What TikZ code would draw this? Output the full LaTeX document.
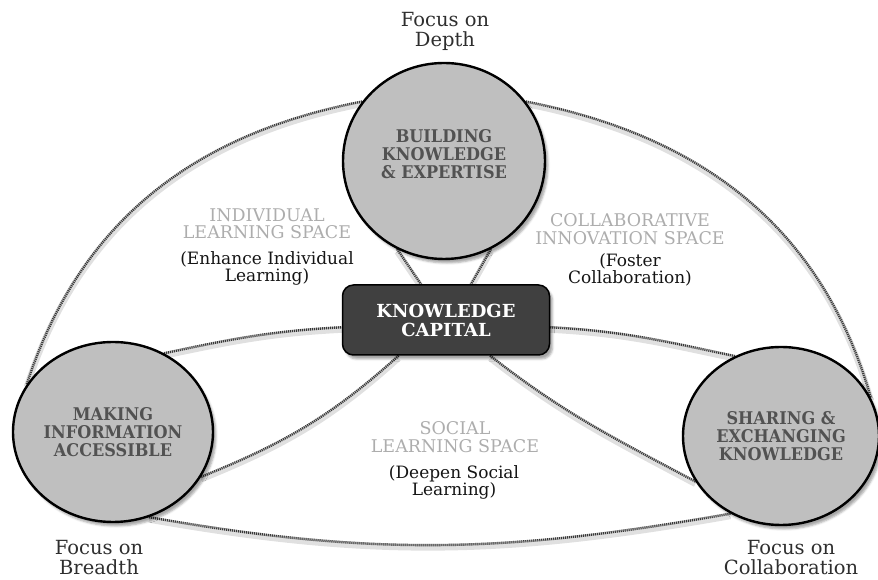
\documentclass[tikz,border=0pt]{standalone}
\usepackage{fontspec}
\setmainfont{DejaVu Serif}
\newfontfamily\hubfont[FakeStretch=0.92]{DejaVu Serif Bold}
\usetikzlibrary{shapes.geometric,shadows.blur,backgrounds}

\begin{document}
\begin{tikzpicture}[x=1pt, y=1pt,
	hubtext/.style={text=black!68, align=center, font=\hubfont\fontsize{17.5}{18}\selectfont},
	hub/.style={ellipse, draw=black, line width=2.4pt, fill=gray!50, inner sep=0pt, hubtext,
		blur shadow={shadow xshift=3pt, shadow yshift=-4pt, shadow opacity=35}},
	core/.style={rectangle, rounded corners=11pt, draw=black, line width=1.5pt, fill=black!75, text=white, align=center,
		minimum width=207, minimum height=70, font=\bfseries\fontsize{18}{19}\selectfont,
		blur shadow={shadow xshift=3pt, shadow yshift=-4pt, shadow opacity=35}},
	space/.style={text=black!32, align=center, font=\fontsize{17.5}{17.5}\selectfont},
	aim/.style={text=black!92, align=center, font=\fontsize{17}{17}\selectfont},
	focus/.style={text=black!82, align=center, font=\fontsize{19.5}{20}\selectfont},
	rope/.style={line width=2.4pt, draw=gray!45,
		preaction={draw=black!12, line width=6pt, transform canvas={yshift=-2.5pt}},
		postaction={draw=black!78, line width=2.4pt, dash pattern=on 1pt off 1pt}}]
	\useasboundingbox (0,0) rectangle (878,580);
	\node[hub, minimum width=202, minimum height=196,
		label={[hubtext, yshift=7pt]center:BUILDING\\KNOWLEDGE\\\& EXPERTISE}] (bke) at (444,419) {};
	\node[hub, minimum width=200, minimum height=180] (mia) at (113,148) {MAKING\\INFORMATION\\ACCESSIBLE};
	\node[hub, minimum width=196, minimum height=178] (sek) at (781,144) {SHARING \&\\EXCHANGING\\KNOWLEDGE};
	\node[core] (kc) at (446,260) {KNOWLEDGE\\CAPITAL};
	\node[focus] (depth) at (445,549) {Focus on\\Depth};
	\node[focus] (breadth) at (99,22) {Focus on\\Breadth};
	\node[focus] (collab) at (791,22) {Focus on\\Collaboration};
	\node[space] (ils) at (267,356) {INDIVIDUAL\\LEARNING SPACE};
	\node[aim] (eil) at (267,312) {(Enhance Individual\\Learning)};
	\node[space] (cis) at (630,351) {COLLABORATIVE\\INNOVATION SPACE};
	\node[aim] (fc) at (630,310) {(Foster\\Collaboration)};
	\node[space] (sls) at (455,143) {SOCIAL\\LEARNING SPACE};
	\node[aim] (dsl) at (454,98) {(Deepen Social\\Learning)};
	\begin{scope}[on background layer]
		\draw[rope] (mia.151) to[out=72, in=191] (bke.144);
		\draw[rope] (bke.36) to[out=-11, in=106] (sek.23);
		\draw[rope] (mia.57) to[out=12, in=183] (kc.184);
		\draw[rope] (kc.-4) to[out=-3, in=168] (sek.120);
		\draw[rope] (kc.217) to[out=222, in=22] (mia.-27);
		\draw[rope] (kc.-39) to[out=-38, in=152] (sek.208);
		\draw[rope] (mia.-67) to[out=-10, in=190] (sek.237);
		\draw[rope] (bke.242) -- (kc.125);
		\draw[rope] (bke.298) -- (kc.55);
	\end{scope}
\end{tikzpicture}
\end{document}
